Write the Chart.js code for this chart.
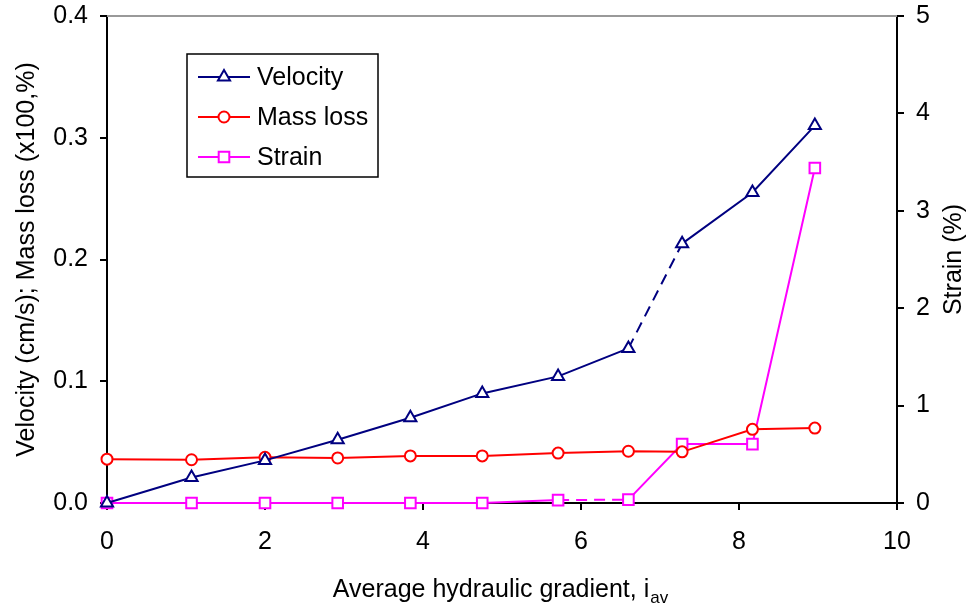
<!DOCTYPE html>
<html>
<head>
<meta charset="utf-8">
<script src="https://cdn.jsdelivr.net/npm/chart.js@4/dist/chart.umd.min.js"></script>
<style>
  html, body { margin: 0; padding: 0; background: #ffffff; }
  #wrap { width: 967px; height: 607px; position: relative; }
</style>
</head>
<body>
<div id="wrap"><canvas id="c" width="967" height="607"></canvas></div>
<script>
// ---- Data ----
const gradient = [0, 1.07, 2.0, 2.92, 3.84, 4.75, 5.71, 6.6, 7.28, 8.17, 8.96];
const velocity = [0, 0.021, 0.035, 0.052, 0.070, 0.090, 0.104, 0.127, 0.213, 0.255, 0.310];
const massLoss = [0.036, 0.0355, 0.0375, 0.037, 0.0387, 0.0387, 0.041, 0.0425, 0.042, 0.0605, 0.0615];
const strain   = [0, 0, 0, 0, 0, 0, 0.03, 0.035, 0.605, 0.605, 3.44];
const xTicks = [0, 2, 4, 6, 8, 10];
const yTicksLeft = [0.0, 0.1, 0.2, 0.3, 0.4];
const yTicksRight = [0, 1, 2, 3, 4, 5];
const seriesNames = ['Velocity', 'Mass loss', 'Strain'];
const velocityDashedFrom = 7; // segment 6.6 -> 7.28 dashed
const strainDashedFrom = 6;   // segment 5.71 -> 6.6 dashed

const FONT = '"Liberation Sans", Arial, sans-serif';
const FS = 25;
const NAVY = '#000080', RED = '#ff0000', MAG = '#ff00ff';

function pts(ys) { return gradient.map((x, i) => ({ x: x, y: ys[i] })); }

function drawMarker(ctx, style, x, y, color) {
  ctx.save();
  ctx.strokeStyle = color; ctx.fillStyle = '#ffffff'; ctx.lineWidth = 2;
  ctx.beginPath();
  if (style === 'triangle') {
    const r = 7;
    for (let k = 0; k < 3; k++) {
      const a = k * 2 * Math.PI / 3;
      const px = x + Math.sin(a) * r, py = y - Math.cos(a) * r;
      if (k === 0) ctx.moveTo(px, py); else ctx.lineTo(px, py);
    }
    ctx.closePath();
  } else if (style === 'circle') {
    ctx.arc(x, y, 5.5, 0, Math.PI * 2);
  } else {
    const s = 5.3;
    ctx.rect(x - s, y - s, 2 * s, 2 * s);
  }
  ctx.fill(); ctx.stroke();
  ctx.restore();
}

const decorPlugin = {
  id: 'decor',
  afterDatasetsDraw(chart) {
    const ctx = chart.ctx;
    const ca = chart.chartArea;
    ctx.save();
    // top gray border
    ctx.strokeStyle = '#999999'; ctx.lineWidth = 2;
    ctx.beginPath(); ctx.moveTo(ca.left, ca.top); ctx.lineTo(ca.right, ca.top); ctx.stroke();

    // legend box
    const bx = 187, by = 54, bw = 191, bh = 123;
    ctx.fillStyle = '#ffffff'; ctx.fillRect(bx, by, bw, bh);
    ctx.strokeStyle = '#000000'; ctx.lineWidth = 1.5;
    ctx.strokeRect(bx, by, bw, bh);
    const rows = [
      { name: seriesNames[0], color: NAVY, style: 'triangle', y: 77 },
      { name: seriesNames[1], color: RED, style: 'circle', y: 117 },
      { name: seriesNames[2], color: MAG, style: 'rect', y: 157 }
    ];
    ctx.font = FS + 'px ' + FONT;
    ctx.textBaseline = 'middle'; ctx.textAlign = 'left';
    rows.forEach(r => {
      ctx.strokeStyle = r.color; ctx.lineWidth = 2;
      ctx.beginPath(); ctx.moveTo(198, r.y); ctx.lineTo(250, r.y); ctx.stroke();
      drawMarker(ctx, r.style, 224, r.y, r.color);
      ctx.fillStyle = '#000000';
      ctx.fillText(r.name, 257, r.y + 1);
    });

    // axis titles
    ctx.fillStyle = '#000000';
    ctx.font = FS + 'px ' + FONT;
    const midY = (ca.top + ca.bottom) / 2;
    ctx.save();
    ctx.translate(27, midY); ctx.rotate(-Math.PI / 2);
    ctx.textAlign = 'center'; ctx.textBaseline = 'middle';
    ctx.fillText('Velocity (cm/s); Mass loss (x100,%)', 0, 0);
    ctx.restore();
    ctx.save();
    ctx.translate(954, midY); ctx.rotate(-Math.PI / 2);
    ctx.textAlign = 'center'; ctx.textBaseline = 'middle';
    ctx.fillText('Strain (%)', 0, 0);
    ctx.restore();

    // x title with subscript
    ctx.textAlign = 'left'; ctx.textBaseline = 'alphabetic';
    const main = 'Average hydraulic gradient, i';
    ctx.font = FS + 'px ' + FONT;
    const w1 = ctx.measureText(main).width;
    ctx.font = '17px ' + FONT;
    const w2 = ctx.measureText('av').width;
    const x0 = 500 - (w1 + w2) / 2;
    ctx.font = FS + 'px ' + FONT;
    ctx.fillText(main, x0, 597);
    ctx.font = '17px ' + FONT;
    ctx.fillText('av', x0 + w1 + 1, 603);
    ctx.restore();
  }
};

const axisCommon = {
  grid: { display: true, drawOnChartArea: false, drawTicks: true, tickLength: 7, tickColor: '#000000', lineWidth: 2 },
  border: { display: true, color: '#000000', width: 2 },
};

function fixV(w) { return s => { s.width = w; s.paddingTop = 0; s.paddingBottom = 0; }; }

new Chart(document.getElementById('c'), {
  type: 'line',
  data: {
    datasets: [
      {
        label: seriesNames[0], data: pts(velocity), yAxisID: 'y',
        borderColor: NAVY, backgroundColor: '#ffffff', borderWidth: 2,
        pointStyle: 'triangle', pointRadius: 7, pointBorderWidth: 2, pointBorderColor: NAVY, pointBackgroundColor: '#ffffff',
        tension: 0, clip: false,
        segment: { borderDash: c => c.p0DataIndex === velocityDashedFrom ? [11, 7] : undefined }
      },
      {
        label: seriesNames[1], data: pts(massLoss), yAxisID: 'y',
        borderColor: RED, backgroundColor: '#ffffff', borderWidth: 2,
        pointStyle: 'circle', pointRadius: 5.5, pointBorderWidth: 2, pointBorderColor: RED, pointBackgroundColor: '#ffffff',
        tension: 0, clip: false
      },
      {
        label: seriesNames[2], data: pts(strain), yAxisID: 'y2',
        borderColor: MAG, backgroundColor: '#ffffff', borderWidth: 2,
        pointStyle: 'rect', pointRadius: 7.5, pointBorderWidth: 2, pointBorderColor: MAG, pointBackgroundColor: '#ffffff',
        tension: 0, clip: false,
        segment: { borderDash: c => c.p0DataIndex === strainDashedFrom ? [11, 7] : undefined }
      }
    ]
  },
  options: {
    responsive: false,
    animation: false,
    devicePixelRatio: 1,
    layout: { padding: { top: 16, left: 0, right: 0, bottom: 0 } },
    plugins: { legend: { display: false }, tooltip: { enabled: false } },
    scales: {
      x: Object.assign({}, axisCommon, {
        type: 'linear', position: 'bottom', min: 0, max: 10,
        afterBuildTicks: s => { s.ticks = xTicks.map(v => ({ value: v })); },
        ticks: { color: '#000000', font: { family: FONT, size: FS }, padding: 17, maxRotation: 0 },
        afterFit: s => { s.height = 104; s.paddingLeft = 0; s.paddingRight = 0; }
      }),
      y: Object.assign({}, axisCommon, {
        type: 'linear', position: 'left', min: 0, max: 0.4,
        afterBuildTicks: s => { s.ticks = yTicksLeft.map(v => ({ value: v })); },
        ticks: { color: '#000000', font: { family: FONT, size: FS }, padding: 12, callback: v => Number(v).toFixed(1) },
        afterFit: fixV(107)
      }),
      y2: Object.assign({}, axisCommon, {
        type: 'linear', position: 'right', min: 0, max: 5,
        afterBuildTicks: s => { s.ticks = yTicksRight.map(v => ({ value: v })); },
        ticks: { color: '#000000', font: { family: FONT, size: FS }, padding: 12, callback: v => String(v) },
        afterFit: fixV(70)
      })
    }
  },
  plugins: [decorPlugin]
});
</script>
</body>
</html>
